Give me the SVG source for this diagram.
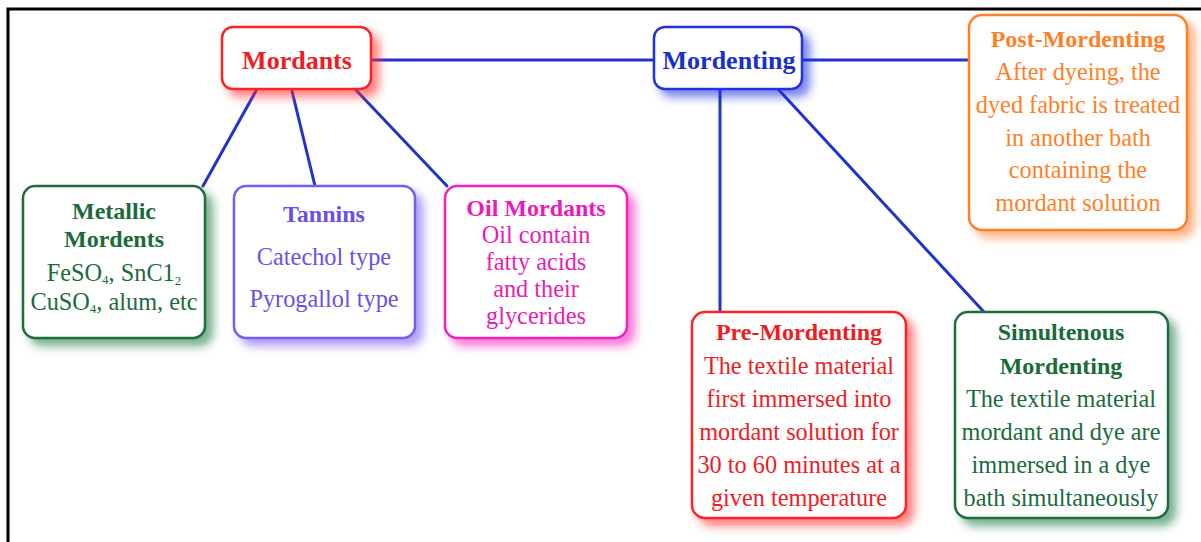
<svg xmlns="http://www.w3.org/2000/svg" width="1201" height="542" viewBox="0 0 1201 542">
<defs>
<filter id="shRed" x="-20%" y="-20%" width="150%" height="150%"><feDropShadow dx="7" dy="7" stdDeviation="5" flood-color="#ff2a2a" flood-opacity="0.6"/></filter>
<filter id="shBlue" x="-20%" y="-20%" width="150%" height="150%"><feDropShadow dx="7" dy="7" stdDeviation="5" flood-color="#2233dd" flood-opacity="0.6"/></filter>
<filter id="shOrange" x="-20%" y="-20%" width="150%" height="150%"><feDropShadow dx="7" dy="7" stdDeviation="5" flood-color="#ff8030" flood-opacity="0.6"/></filter>
<filter id="shGreen" x="-20%" y="-20%" width="150%" height="150%"><feDropShadow dx="7" dy="7" stdDeviation="5" flood-color="#1e7a44" flood-opacity="0.6"/></filter>
<filter id="shPurple" x="-20%" y="-20%" width="150%" height="150%"><feDropShadow dx="7" dy="7" stdDeviation="5" flood-color="#7a5af0" flood-opacity="0.6"/></filter>
<filter id="shMagenta" x="-20%" y="-20%" width="150%" height="150%"><feDropShadow dx="7" dy="7" stdDeviation="5" flood-color="#f020c0" flood-opacity="0.6"/></filter>
</defs>
<style>
text{font-size:24.3px;text-anchor:middle}
.t{font-weight:bold;font-size:24px}
.big{font-size:26px;font-weight:bold}
.box{fill:#fff;stroke-width:2.5}
.conn line{stroke:#2233cc;stroke-width:3;stroke-linecap:round}
.sub{font-size:13px}
</style>
<path d="M8,542 V9 H1201" fill="none" stroke="#000" stroke-width="3"/>
<g class="conn">
<line x1="371" y1="60" x2="654" y2="60"/>
<line x1="802" y1="60" x2="969" y2="60"/>
<line x1="257" y1="89" x2="203" y2="186"/>
<line x1="292" y1="91" x2="315" y2="186"/>
<line x1="355" y1="89" x2="447" y2="186"/>
<line x1="720" y1="89" x2="720" y2="312"/>
<line x1="778" y1="89" x2="984" y2="312"/>
</g>
<g font-family="'Liberation Serif', 'Times New Roman', Tinos, serif">
<g id="mordants">
<rect class="box" x="222" y="27" width="149" height="62" rx="11" stroke="#ff2020" filter="url(#shRed)"/>
<text class="big" x="297" y="69" fill="#ee1c24">Mordants</text>
</g>
<g id="mordenting">
<rect class="box" x="654" y="27" width="148" height="62" rx="11" stroke="#2233dd" filter="url(#shBlue)"/>
<text class="big" x="729" y="69" fill="#1a2fcc">Mordenting</text>
</g>
<g id="post-mordenting" fill="#ff7f27">
<rect class="box" x="969" y="15" width="218" height="215" rx="13" stroke="#ff7f27" filter="url(#shOrange)"/>
<text class="t" x="1078" y="47">Post-Mordenting</text>
<text x="1078" y="80">After dyeing, the</text>
<text x="1078" y="113">dyed fabric is treated</text>
<text x="1078" y="146">in another bath</text>
<text x="1078" y="178">containing the</text>
<text x="1078" y="211">mordant solution</text>
</g>
<g id="metallic" fill="#1a6b3a">
<rect class="box" x="23" y="186" width="182" height="152" rx="12" stroke="#1e6e3c" filter="url(#shGreen)"/>
<text class="t" x="114" y="219">Metallic</text>
<text class="t" x="114" y="247">Mordents</text>
<text x="114" y="281">FeSO<tspan class="sub" dy="3">4</tspan><tspan dy="-3">, SnC1</tspan><tspan class="sub" dy="4">2</tspan></text>
<text x="114" y="310">CuSO<tspan class="sub" dy="3">4</tspan><tspan dy="-3">, alum, etc</tspan></text>
</g>
<g id="tannins" fill="#6a50e8">
<rect class="box" x="234" y="186" width="181" height="152" rx="12" stroke="#7a5af0" filter="url(#shPurple)"/>
<text class="t" x="324" y="222">Tannins</text>
<text x="324" y="265">Catechol type</text>
<text x="324" y="307">Pyrogallol type</text>
</g>
<g id="oil-mordants" fill="#e81cb8">
<rect class="box" x="445" y="186" width="182" height="152" rx="12" stroke="#f020c0" filter="url(#shMagenta)"/>
<text class="t" x="536" y="216">Oil Mordants</text>
<text x="536" y="243">Oil contain</text>
<text x="536" y="270">fatty acids</text>
<text x="536" y="297">and their</text>
<text x="536" y="324">glycerides</text>
</g>
<g id="pre-mordenting" fill="#ee1c24">
<rect class="box" x="692" y="312" width="214" height="206" rx="13" stroke="#ff2020" filter="url(#shRed)"/>
<text class="t" x="799" y="340">Pre-Mordenting</text>
<text x="799" y="374">The textile material</text>
<text x="799" y="407">first immersed into</text>
<text x="799" y="440">mordant solution for</text>
<text x="799" y="473">30 to 60 minutes at a</text>
<text x="799" y="506">given temperature</text>
</g>
<g id="simultenous-mordenting" fill="#1a6b3a">
<rect class="box" x="955" y="312" width="213" height="206" rx="13" stroke="#1e6e3c" filter="url(#shGreen)"/>
<text class="t" x="1061" y="340">Simultenous</text>
<text class="t" x="1061" y="374">Mordenting</text>
<text x="1061" y="407">The textile material</text>
<text x="1061" y="440">mordant and dye are</text>
<text x="1061" y="473">immersed in a dye</text>
<text x="1061" y="506">bath simultaneously</text>
</g>
</g>
</svg>
